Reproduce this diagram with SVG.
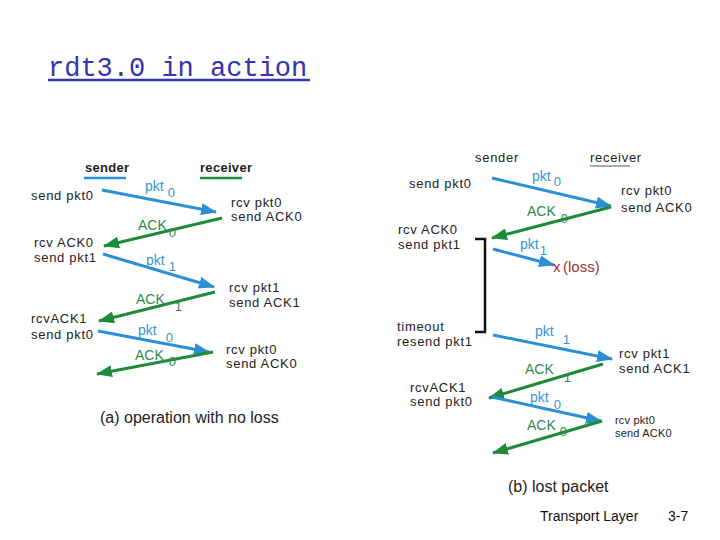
<svg xmlns="http://www.w3.org/2000/svg" width="720" height="540" viewBox="0 0 720 540">
<defs>
<marker id="ab" markerUnits="userSpaceOnUse" markerWidth="16" markerHeight="12" refX="15" refY="6" orient="auto"><path d="M0,0 L16,6 L0,12 z" fill="#2b8fd6"/></marker>
<marker id="ag" markerUnits="userSpaceOnUse" markerWidth="16" markerHeight="12" refX="15" refY="6" orient="auto"><path d="M0,0 L16,6 L0,12 z" fill="#1e8a3c"/></marker>
<style>
text{font-family:"Liberation Sans","DejaVu Sans",sans-serif;}
.t{font-size:13px;letter-spacing:0.7px;fill:#222;}
.s{font-size:11px;letter-spacing:0.2px;fill:#222;}
.pk{font-size:14px;fill:#3796d2;}
.ak{font-size:14px;fill:#2e8a4a;}
.sub{font-size:13px;}
.b{stroke:#2b8fd6;stroke-width:3;fill:none;marker-end:url(#ab);}
.g{stroke:#1e8a3c;stroke-width:3;fill:none;marker-end:url(#ag);}
.cap{font-size:16px;fill:#222;}
</style>
</defs>
<rect width="720" height="540" fill="#fff"/>
<g id="title">
<text x="48" y="76" style="font-family:'Liberation Mono','DejaVu Sans Mono',monospace" font-size="27" fill="#3333b3">rdt3.0 in action</text>
<line x1="48" y1="80" x2="310" y2="80" stroke="#3333b3" stroke-width="2.5"/>
</g>
<g id="connectors">
<line class="b" x1="102" y1="190" x2="216" y2="212"/>
<line class="g" x1="222" y1="218" x2="104" y2="246"/>
<line class="b" x1="103" y1="254" x2="214" y2="287"/>
<line class="g" x1="215" y1="292" x2="99" y2="321"/>
<line class="b" x1="98" y1="331" x2="209" y2="352"/>
<line class="g" x1="213" y1="352" x2="97" y2="374"/>
<line class="b" x1="492" y1="178" x2="611" y2="206"/>
<line class="g" x1="611" y1="207" x2="492" y2="238"/>
<line class="b" x1="493" y1="249" x2="554" y2="265"/>
<line class="b" x1="493" y1="335" x2="612" y2="359"/>
<line class="g" x1="603" y1="364" x2="489" y2="398"/>
<line class="b" x1="492" y1="397" x2="601" y2="421"/>
<line class="g" x1="602" y1="421" x2="493" y2="453"/>
<path d="M475,239 H485 V332 H475" stroke="#111" stroke-width="2.5" fill="none"/>
</g>
<g id="panel-a">
<text class="t" x="85" y="172" style="font-weight:bold;letter-spacing:0.3px">sender</text>
<line x1="84" y1="178" x2="126" y2="178" stroke="#2b8fd6" stroke-width="2.5"/>
<text class="t" x="200" y="172" style="font-weight:bold;letter-spacing:0.3px">receiver</text>
<line x1="200" y1="178" x2="242" y2="178" stroke="#1e8a3c" stroke-width="2.5"/>
<text class="t" x="31" y="200">send pkt0</text>
<text class="pk" x="145" y="191">pkt<tspan class="sub" dx="4" dy="6">0</tspan></text>
<text class="t" x="231" y="207">rcv pkt0</text>
<text class="t" x="231" y="221">send ACK0</text>
<text class="ak" x="138" y="230">ACK<tspan class="sub" dx="2" dy="7">0</tspan></text>
<text class="t" x="34" y="247">rcv ACK0</text>
<text class="t" x="34" y="262">send pkt1</text>
<text class="pk" x="146" y="265">pkt<tspan class="sub" dx="4" dy="6">1</tspan></text>
<text class="t" x="229" y="292">rcv pkt1</text>
<text class="t" x="229" y="307">send ACK1</text>
<text class="ak" x="136" y="304">ACK<tspan class="sub" dx="10" dy="7">1</tspan></text>
<text class="t" x="31" y="323">rcvACK1</text>
<text class="t" x="31" y="339">send pkt0</text>
<text class="pk" x="138" y="335">pkt<tspan class="sub" dx="9" dy="7">0</tspan></text>
<text class="t" x="226" y="354">rcv pkt0</text>
<text class="t" x="226" y="368">send ACK0</text>
<text class="ak" x="135" y="360">ACK<tspan class="sub" dx="5" dy="6">0</tspan></text>
<text class="cap" x="100" y="423">(a) operation with no loss</text>
</g>
<g id="panel-b">
<text class="t" x="475" y="162">sender</text>
<text class="t" x="590" y="162">receiver</text>
<line x1="590" y1="166" x2="630" y2="166" stroke="#555" stroke-width="1"/>
<text class="t" x="409" y="188">send pkt0</text>
<text class="pk" x="532" y="181">pkt<tspan class="sub" dx="3" dy="5">0</tspan></text>
<text class="t" x="621" y="195">rcv pkt0</text>
<text class="t" x="621" y="212">send ACK0</text>
<text class="ak" x="527" y="216">ACK<tspan class="sub" dx="5" dy="7">0</tspan></text>
<text class="t" x="398" y="234">rcv ACK0</text>
<text class="t" x="398" y="249">send pkt1</text>
<text class="pk" x="520" y="249">pkt<tspan class="sub" dx="1" dy="6">1</tspan></text>
<text x="553" y="272" font-size="15" fill="#b02424">x</text>
<text x="563" y="272" font-size="15" fill="#a0352d">(loss)</text>
<text class="t" x="397" y="331">timeout</text>
<text class="t" x="397" y="346">resend pkt1</text>
<text class="pk" x="535" y="336">pkt<tspan class="sub" dx="9" dy="8">1</tspan></text>
<text class="t" x="619" y="358">rcv pkt1</text>
<text class="t" x="619" y="373">send ACK1</text>
<text class="ak" x="525" y="374">ACK<tspan class="sub" dx="10" dy="8">1</tspan></text>
<text class="t" x="410" y="392">rcvACK1</text>
<text class="t" x="410" y="406">send pkt0</text>
<text class="pk" x="530" y="402">pkt<tspan class="sub" dx="5" dy="7">0</tspan></text>
<text class="s" x="615" y="424">rcv pkt0</text>
<text class="s" x="615" y="437">send ACK0</text>
<text class="ak" x="527" y="430">ACK<tspan class="sub" dx="4" dy="6">0</tspan></text>
<text class="cap" x="508" y="492">(b) lost packet</text>
</g>
<g id="footer">
<text x="540" y="521" font-size="14" fill="#111">Transport Layer</text>
<text x="668" y="521" font-size="14" fill="#111">3-7</text>
</g>
</svg>
